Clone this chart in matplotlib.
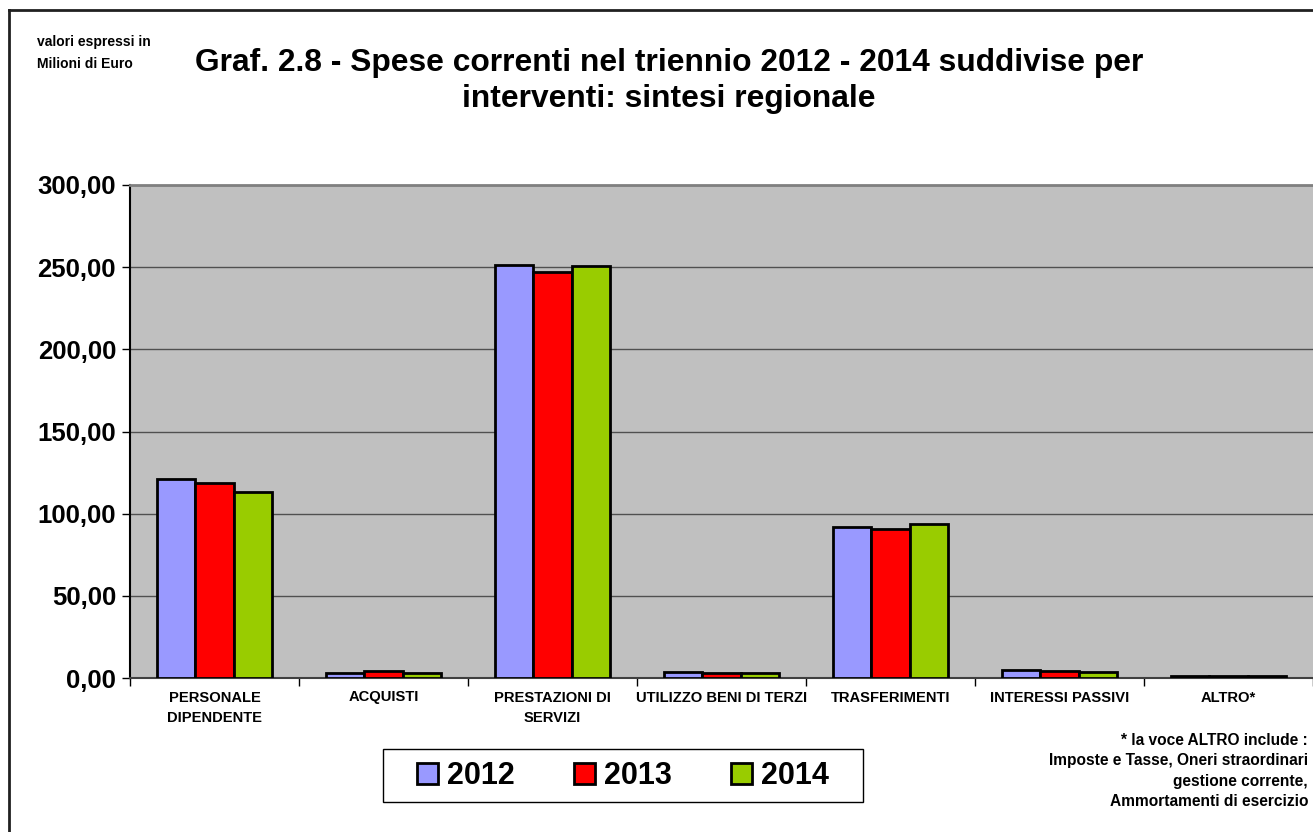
import matplotlib
matplotlib.use('Agg')
import matplotlib.pyplot as plt
from matplotlib.lines import Line2D
from matplotlib.patches import Patch, Rectangle
from matplotlib.ticker import FuncFormatter
import numpy as np

plt.rcParams['font.family'] = ['Liberation Sans', 'DejaVu Sans']
plt.rcParams['font.weight'] = 'bold'

# dati (milioni di euro)
categorie = ['PERSONALE\nDIPENDENTE', 'ACQUISTI', 'PRESTAZIONI DI\nSERVIZI',
             'UTILIZZO BENI DI TERZI', 'TRASFERIMENTI', 'INTERESSI PASSIVI', 'ALTRO*']
anni = ['2012', '2013', '2014']
v2012 = [121.1, 3.0, 251.4, 3.5, 91.9, 4.6, 1.5]
v2013 = [118.7, 4.3, 247.1, 3.0, 90.7, 4.0, 1.5]
v2014 = [113.2, 3.0, 250.8, 3.0, 93.7, 3.5, 1.5]
colori = ['#9999FF', '#FF0000', '#99CC00']

fig = plt.figure(figsize=(13.13, 8.32), dpi=100)
ax = fig.add_axes([130/1313, 154/832, 1183/1313, 493/832])
ax.set_facecolor('#C0C0C0')

x = np.arange(len(categorie))
w = 0.225
serie = [v2012, v2013, v2014]
for k in range(3):
    ax.bar(x + (k - 1) * w, serie[k], width=w, color=colori[k],
           edgecolor='black', linewidth=2, zorder=3)

ax.set_xlim(-0.5, len(categorie) - 0.5)
ax.set_ylim(0, 300)
ax.set_yticks(np.arange(0, 301, 50))
ax.yaxis.set_major_formatter(FuncFormatter(lambda v, p: f'{v:.2f}'.replace('.', ',')))
ax.tick_params(axis='y', labelsize=18.5, length=6, width=1, pad=4)
ax.grid(axis='y', color='#505050', linewidth=1, zorder=1)

ax.set_xticks(x)
ax.set_xticklabels(categorie, fontsize=10.6, linespacing=1.55)
ax.set_xticks(np.arange(-0.5, len(categorie)), minor=True)
ax.tick_params(axis='x', which='major', length=0, pad=9)
ax.tick_params(axis='x', which='minor', length=6, width=1)

ax.spines['right'].set_visible(False)
ax.spines['top'].set_color('#808080')
ax.spines['top'].set_linewidth(2)
ax.spines['left'].set_linewidth(1.5)
ax.spines['bottom'].set_color('#404040')
ax.spines['bottom'].set_linewidth(1.5)

# titolo e note
fig.text(0.5095, 1 - 81/832,
         'Graf. 2.8 - Spese correnti nel triennio 2012 - 2014 suddivise per\ninterventi: sintesi regionale',
         ha='center', va='center', fontsize=22.9, fontweight='bold', linespacing=1.25)
fig.text(37/1313, 1 - 53/832, 'valori espressi in\nMilioni di Euro',
         ha='left', va='center', fontsize=10, fontweight='bold', linespacing=1.75)
fig.text(1308/1313, 1 - 771/832,
         '* la voce ALTRO include :\nImposte e Tasse, Oneri straordinari\ngestione corrente,\nAmmortamenti di esercizio',
         ha='right', va='center', fontsize=11.2, fontweight='bold', linespacing=1.45)

# legenda
handles = [Patch(facecolor=colori[k], edgecolor='black', linewidth=2) for k in range(3)]
leg = fig.legend(handles, anni, loc='center', bbox_to_anchor=(623/1313, 56/832),
                 ncol=3, prop={'weight': 'bold', 'size': 22},
                 frameon=False,
                 handlelength=0.68, handleheight=0.68, handletextpad=0.3,
                 columnspacing=1.95, borderpad=0.3, borderaxespad=0)
fig.add_artist(Rectangle((383/1313, 30/832), 480/1313, 53/832, transform=fig.transFigure,
                         facecolor='none', edgecolor='black', linewidth=1))

# cornice
fig.add_artist(Line2D([9/1313, 9/1313], [0, 1 - 10/832], color='#202020', linewidth=2))
fig.add_artist(Line2D([9/1313, 1], [1 - 10/832, 1 - 10/832], color='#202020', linewidth=2))

fig.savefig('out.png', dpi=100)
